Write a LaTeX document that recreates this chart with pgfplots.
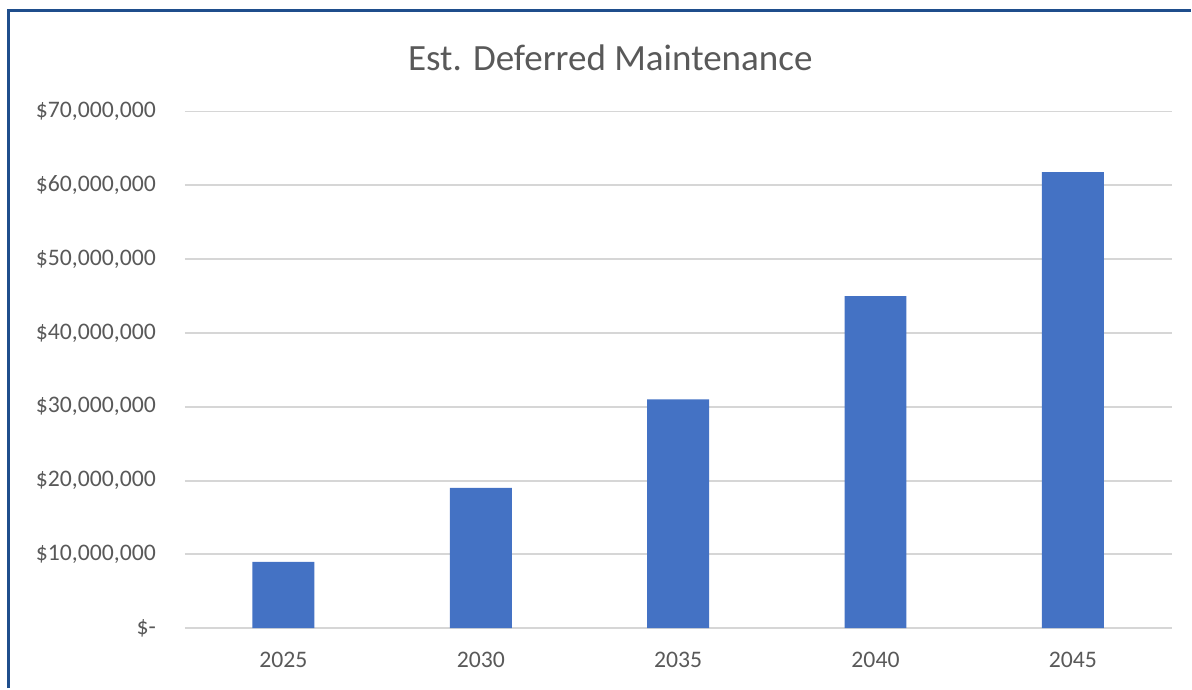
\documentclass[border=0pt]{standalone}
\usepackage{fontspec}
\setmainfont{Carlito}
\usepackage{pgfplots}
\pgfplotsset{compat=1.18}
\definecolor{barblue}{HTML}{4472C4}
\definecolor{txtgray}{HTML}{595959}
\definecolor{gridgray}{HTML}{D6D6D6}
\definecolor{framblue}{HTML}{1F4E8C}
\begin{document}
\begin{tikzpicture}
% bounding box of the screenshot (1 px = 0.75pt, axis corner at px (185,629))
\path (-138.75pt,-45pt) rectangle (755.25pt,471.75pt);
\begin{axis}[
    at={(0,0)}, anchor=south west,
    scale only axis,
    width=741pt, height=388pt,
    ybar, bar width=0.314,
    xmin=-0.5, xmax=4.5,
    ymin=0, ymax=70000000,
    xtick={0,1,2,3,4},
    xticklabels={2025,2030,2035,2040,2045},
    ytick={0,10000000,20000000,30000000,40000000,50000000,60000000,70000000},
    yticklabels={{\$-},{\$10,000,000},{\$20,000,000},{\$30,000,000},{\$40,000,000},{\$50,000,000},{\$60,000,000},{\$70,000,000}},
    scaled y ticks=false,
    ymajorgrids,
    grid style={gridgray, line width=1.4pt},
    axis line style={draw=none},
    major tick length=0pt,
    tick label style={font=\fontsize{17.8}{20}\selectfont, text=txtgray, inner sep=0pt},
    yticklabel style={anchor=east, xshift=-21.5pt},
    xticklabel style={anchor=north, yshift=-17.5pt},
]
\addplot[fill=barblue, draw=none] coordinates {(0,9000000) (1,19000000) (2,31000000) (3,45000000) (4,61800000)};
\end{axis}
\node[text=txtgray, font=\fontsize{27.8}{32}\selectfont] at (319.5pt,428pt) {Est. Deferred Maintenance};
\draw[framblue, line width=2.25pt] (-132pt,-45pt) -- (-132pt,463.5pt) -- (755.25pt,463.5pt);
\end{tikzpicture}
\end{document}
